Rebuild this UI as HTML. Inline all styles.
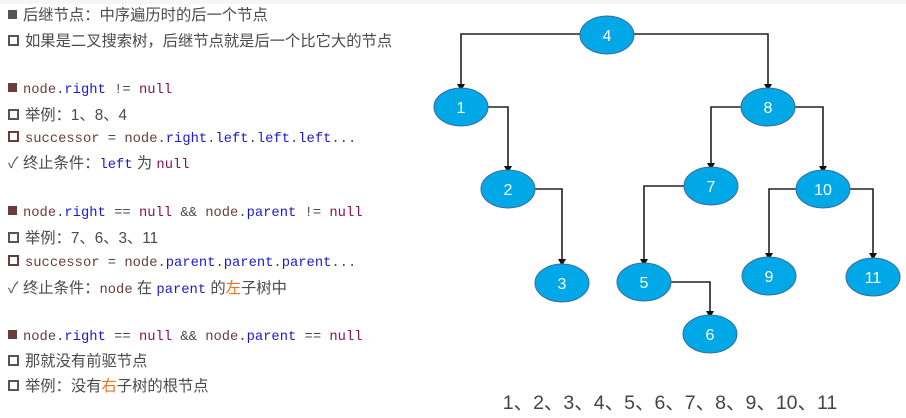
<!DOCTYPE html>
<html><head><meta charset="utf-8"><style>
body{margin:0;width:906px;height:418px;background:#fff;overflow:hidden;position:relative;font-family:"Liberation Sans","Noto Sans CJK SC",sans-serif;}
.l{position:absolute;left:8px;font-size:15.3px;color:#4a4a4a;white-space:nowrap;line-height:18px}
.m{font-family:"Liberation Mono","Noto Sans CJK SC",monospace;font-size:13.8px}
.b{color:#1a1ad0}.p{color:#8a1060}.n{color:#6b3c3c}.o{color:#f07020}
.sq{display:inline-block;width:9px;height:9px;background:#555;margin-right:6px;vertical-align:1px}
.sqd{background:#6b3c3c}
.eb{display:inline-block;width:7px;height:7px;border:2px solid #555;margin-right:6px;vertical-align:0px}
.ebd{border-color:#6b3c3c}
.ck{display:inline-block;width:11px;margin-right:4px;color:#555}
</style></head><body>
<div style="position:absolute;left:0;top:0;width:906px;height:4px;background:#f6f6f6"></div>
<div class="l" style="top:7px"><span class="sq"></span>后继节点：中序遍历时的后一个节点</div>
<div class="l" style="top:33px"><span class="eb"></span>如果是二叉搜索树，后继节点就是后一个比它大的节点</div>
<div class="l m" style="top:82px"><span class="sq sqd"></span><span class="n">node</span>.<span class="b">right</span> != <span class="p">null</span></div>
<div class="l" style="top:107px"><span class="eb"></span>举例：1、8、4</div>
<div class="l m" style="top:131px"><span class="eb ebd"></span><span class="n">successor</span> = <span class="n">node</span>.<span class="b">right</span>.<span class="b">left</span>.<span class="b">left</span>.<span class="b">left</span>...</div>
<div class="l" style="top:155px"><span class="ck">✓</span>终止条件：<span class="m b">left</span> 为 <span class="m p">null</span></div>
<div class="l m" style="top:205px"><span class="sq sqd"></span><span class="n">node</span>.<span class="b">right</span> == <span class="p">null</span> &amp;&amp; <span class="n">node</span>.<span class="b">parent</span> != <span class="p">null</span></div>
<div class="l" style="top:230px"><span class="eb"></span>举例：7、6、3、11</div>
<div class="l m" style="top:255px"><span class="eb ebd"></span><span class="n">successor</span> = <span class="n">node</span>.<span class="b">parent</span>.<span class="b">parent</span>.<span class="b">parent</span>...</div>
<div class="l" style="top:280px"><span class="ck">✓</span>终止条件：<span class="m n">node</span> 在 <span class="m b">parent</span> 的<span class="o">左</span>子树中</div>
<div class="l m" style="top:329px"><span class="sq sqd"></span><span class="n">node</span>.<span class="b">right</span> == <span class="p">null</span> &amp;&amp; <span class="n">node</span>.<span class="b">parent</span> == <span class="p">null</span></div>
<div class="l" style="top:353px"><span class="eb"></span>那就没有前驱节点</div>
<div class="l" style="top:378px"><span class="eb"></span>举例：没有<span class="o">右</span>子树的根节点</div>
<svg width="906" height="418" style="position:absolute;left:0;top:0">
<g stroke="#222" stroke-width="1.6" fill="none">
<path d="M580,34 H461 V86"/><path d="M634,34 H768 V86"/>
<path d="M488,107 H508 V168"/><path d="M741,107 H711 V165"/><path d="M795,107 H823 V168"/>
<path d="M535,189 H562 V261"/><path d="M684,186 H644 V261"/>
<path d="M796,189 H769 V255"/><path d="M850,189 H873 V255"/><path d="M671,282 H710 V313"/>
</g>
<g fill="#111">
<path d="M457,84 h8 l-4,7z"/><path d="M764,84 h8 l-4,7z"/><path d="M504,166 h8 l-4,7z"/>
<path d="M707,163 h8 l-4,7z"/><path d="M819,166 h8 l-4,7z"/><path d="M558,259 h8 l-4,7z"/>
<path d="M640,259 h8 l-4,7z"/><path d="M765,253 h8 l-4,7z"/><path d="M869,253 h8 l-4,7z"/><path d="M706,311 h8 l-4,7z"/>
</g>
<g fill="#00a8e8" stroke="#3a6e9a" stroke-width="1">
<ellipse cx="607" cy="35" rx="27" ry="19"/><ellipse cx="461" cy="107" rx="27" ry="19"/>
<ellipse cx="768" cy="107" rx="27" ry="19"/><ellipse cx="508" cy="189" rx="27" ry="19"/>
<ellipse cx="711" cy="186" rx="27" ry="19"/><ellipse cx="823" cy="189" rx="27" ry="19"/>
<ellipse cx="562" cy="283" rx="27" ry="19"/><ellipse cx="644" cy="282" rx="27" ry="19"/>
<ellipse cx="769" cy="276" rx="27" ry="19"/><ellipse cx="873" cy="277" rx="27" ry="19"/>
<ellipse cx="710" cy="334" rx="27" ry="19"/>
</g>
<g fill="#fff" font-family="Liberation Sans, sans-serif" font-size="16" text-anchor="middle">
<text x="607" y="41">4</text><text x="461" y="113">1</text><text x="768" y="113">8</text>
<text x="508" y="195">2</text><text x="711" y="192">7</text><text x="823" y="195">10</text>
<text x="562" y="289">3</text><text x="644" y="288">5</text><text x="769" y="282">9</text>
<text x="873" y="283">11</text><text x="710" y="340">6</text>
</g>
<text x="670" y="409" text-anchor="middle" font-family="Liberation Sans, Noto Sans CJK SC, sans-serif" font-size="19.5" fill="#444">1、2、3、4、5、6、7、8、9、10、11</text>
</svg>
</body></html>
